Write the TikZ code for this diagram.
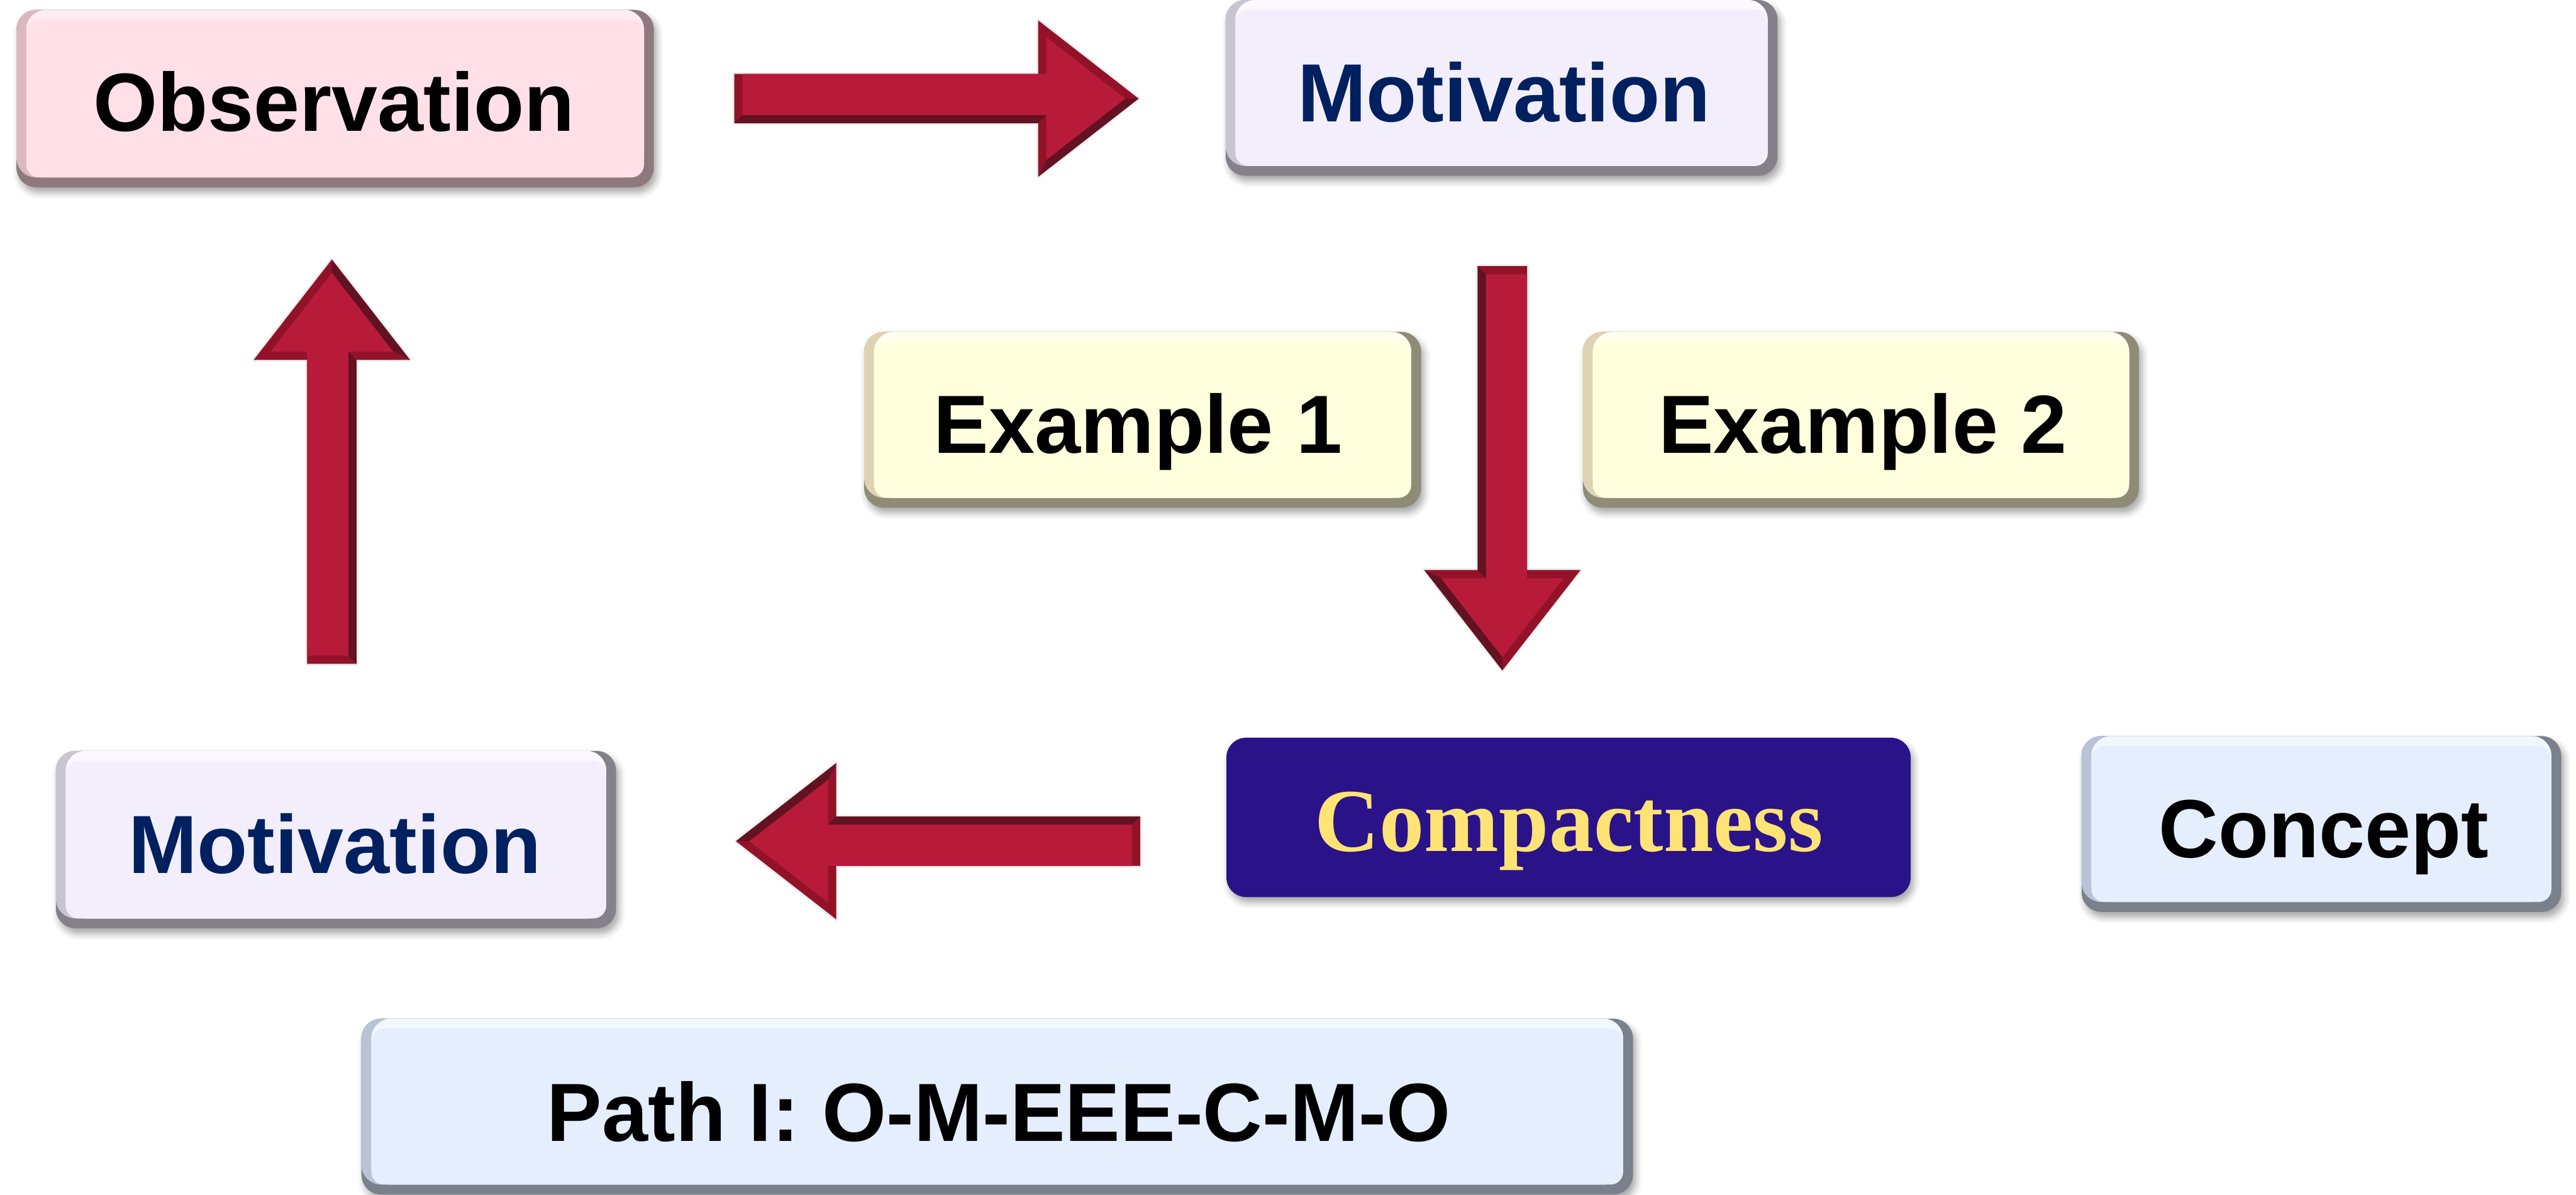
\documentclass[tikz,border=0pt]{standalone}
\usepackage{fontspec}
\setmainfont{Liberation Sans}
\newfontfamily\cmpfont{Liberation Serif}
\usetikzlibrary{shadows.blur}
\definecolor{arrmain}{HTML}{B81B3A}
\definecolor{arrmid}{HTML}{931229}
\definecolor{arrdark}{HTML}{631222}
\definecolor{pkfill}{HTML}{FFE0E8}
\definecolor{pklight}{HTML}{FFECF2}
\definecolor{pkmid}{HTML}{DAB8C0}
\definecolor{pkdark}{HTML}{8E7A7E}
\definecolor{lvfill}{HTML}{F3EEFC}
\definecolor{lvlight}{HTML}{FBF8FF}
\definecolor{lvmid}{HTML}{C9C4D2}
\definecolor{lvdark}{HTML}{84818A}
\definecolor{ylfill}{HTML}{FFFFDD}
\definecolor{yllight}{HTML}{FFFFEE}
\definecolor{ylmid}{HTML}{DDD3B3}
\definecolor{yldark}{HTML}{8E8B77}
\definecolor{blfill}{HTML}{E5EEFC}
\definecolor{bllight}{HTML}{F0F8FE}
\definecolor{blmid}{HTML}{B8C3D6}
\definecolor{bldark}{HTML}{7A818C}
\definecolor{cmpfill}{HTML}{2A1289}
\definecolor{cmptext}{HTML}{FFE375}
\definecolor{navy}{HTML}{002060}
\newcommand{\bevbox}[5]{%
  \fill[rounded corners=3.4mm,#5dark,boxshadow] (#1,#2) rectangle (#3,#4);
  \fill[rounded corners=3.4mm,#5mid] (#1,#2) rectangle ({#3-6},{#4-6});
  \fill[rounded corners=3.4mm,#5light] ({#1+6},#2) rectangle ({#3-6},{#4-6});
  \fill[rounded corners=2.2mm,#5fill] ({#1+6},{#2+6}) rectangle ({#3-6},{#4-6});
}
\newcommand{\blockarrow}{%
  \fill[arrmid, blur shadow={shadow xshift=0pt, shadow yshift=0pt, shadow blur radius=1.2pt, shadow opacity=30}]
    (0,-15) -- (185,-15) -- (185,-47.5) -- (246,0) -- (185,47.5) -- (185,15) -- (0,15) -- cycle;
  \fill[arrdark] (0,15) -- (185,15) -- (190,10) -- (5,10) -- cycle;
  \fill[arrdark] (246,0) -- (185,47.5) -- (190,37.27) -- (237.9,0) -- cycle;
  \fill[arrmain] (5,-15) -- (190,-15) -- (190,-37.27) -- (237.9,0) -- (190,37.27) -- (190,10) -- (5,10) -- cycle;
}
\tikzset{
  boxshadow/.style={blur shadow={shadow xshift=0.5mm, shadow yshift=-0.9mm, shadow blur radius=1.1mm, shadow opacity=35}},
  lbl/.style={font=\fontsize{40.5pt}{48pt}\selectfont\bfseries, anchor=base, inner sep=0pt}
}
\begin{document}
\begin{tikzpicture}[x=0.02832cm, y=-0.02832cm]
\useasboundingbox (0,0) rectangle (1568,727);
% boxes
\bevbox{10}{6}{398}{114}{pk}
\bevbox{746}{0}{1082}{107}{lv}
\bevbox{526}{202}{865}{309}{yl}
\bevbox{963.5}{202}{1302}{309}{yl}
\fill[rounded corners=3.4mm, cmpfill, boxshadow] (746.5,449) rectangle (1163,546);
\bevbox{1267}{448}{1559}{555}{bl}
\bevbox{34}{457}{375}{565}{lv}
\bevbox{220}{620}{994}{727}{bl}
% arrows
\begin{scope}[shift={(447,60)}] \blockarrow \end{scope}
\begin{scope}[shift={(914.5,162)}, rotate=-90] \blockarrow \end{scope}
\begin{scope}[shift={(694,512)}, rotate=180] \blockarrow \end{scope}
\begin{scope}[shift={(202,404)}, rotate=90] \blockarrow \end{scope}
% labels
\node[lbl] (obs) at (203.3,80) {Observation};
\node[lbl, text=navy] (mot1) at (915.5,74) {Motivation};
\node[lbl] (ex1) at (692.7,276) {Example 1};
\node[lbl] (ex2) at (1133.8,276) {Example 2};
\node[lbl, font=\cmpfont\fontsize{44pt}{52pt}\selectfont\bfseries, text=cmptext] (comp) at (955,518) {Compactness};
\node[lbl] (conc) at (1414.5,522) {Concept};
\node[lbl, text=navy] (mot2) at (203.8,531.4) {Motivation};
\node[lbl] (path) at (608,694.5) {Path I: O-M-EEE-C-M-O};
\end{tikzpicture}
\end{document}
